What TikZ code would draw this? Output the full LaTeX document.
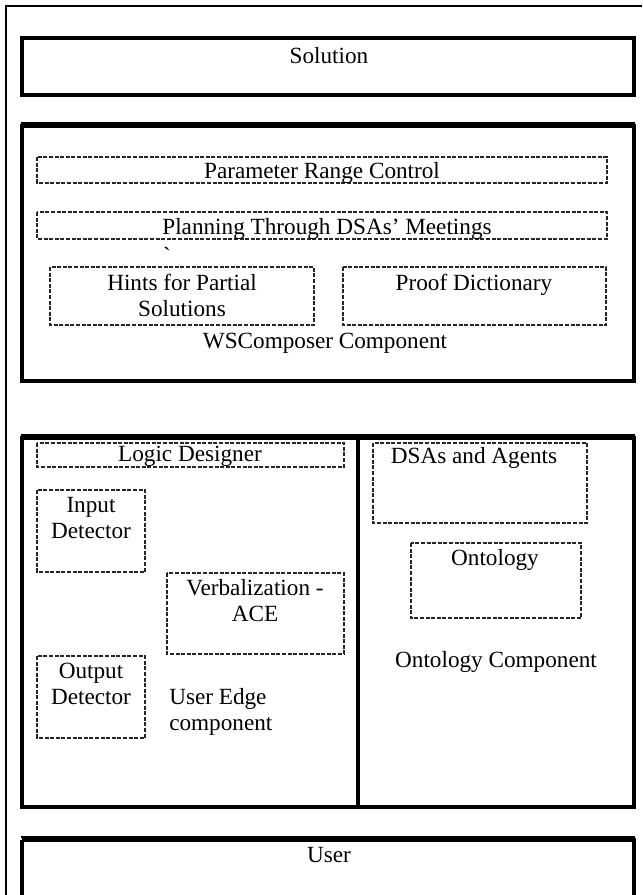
\documentclass[tikz,border=0pt]{standalone}
\usepackage{fontspec}
\setmainfont{Liberation Serif}
% same face without TeX ligature mapping, so a grave accent prints as itself
\newfontfamily\rawserif{Liberation Serif}
\begin{document}
\begin{tikzpicture}[x=0.75pt,y=-0.75pt,
  every node/.style={inner sep=0pt, font=\fontsize{17.4}{19.5}\selectfont},
  frame/.style={draw=black, line width=1.5pt},
  heavybox/.style={draw=black, line width=3pt},
  thinrule/.style={draw=black, line width=1.1pt},
  dbox/.style={draw=black!85, line width=1.1pt, dash pattern=on 3pt off 1.2pt},
  txt/.style={anchor=base}
]
\useasboundingbox (0,0) rectangle (642,895);

% page frame
\draw[frame] (642,6) -- (6,6) -- (6,895);

% Solution
\draw[heavybox] (22,38) rectangle (634,95);
\node[txt] (solution) at (329,64) {Solution};

% WSComposer component
\draw[thinrule] (21,123) -- (635,123);
\draw[heavybox] (22,126) rectangle (634,381);
\draw[dbox] (37,157) rectangle (607,183);
\node[txt] (prc) at (322,178) {Parameter Range Control};
\draw[dbox] (37,212) rectangle (607,239);
\node[txt] (plan) at (327,234) {Planning Through DSAs’ Meetings};
\node[txt] (tick) at (167,263) {\rawserif\symbol{96}};
\draw[dbox] (50,267) rectangle (314,325);
\node[txt] (hints1) at (182,290) {Hints for Partial};
\node[txt] (hints2) at (182,316) {Solutions};
\draw[dbox] (343,267) rectangle (606,325);
\node[txt] (proof) at (474,290) {Proof Dictionary};
\node[txt] (wsc) at (325,348) {WSComposer Component};

% User Edge and Ontology components
\draw[thinrule] (21,435) -- (635,435);
\draw[heavybox] (22,438) rectangle (634,807);
\draw[heavybox] (358,438) -- (358,807);

\draw[dbox] (37,443) rectangle (344,467);
\node[txt] (logic) at (190,461) {Logic Designer};
\draw[dbox] (37,490) rectangle (145,572);
\node[txt] (in1) at (91,512) {Input};
\node[txt] (in2) at (91,538) {Detector};
\draw[dbox] (167,573) rectangle (344,654);
\node[txt] (verb1) at (255,595) {Verbalization -};
\node[txt] (verb2) at (255,621) {ACE};
\draw[dbox] (37,656) rectangle (145,738);
\node[txt] (out1) at (91,678) {Output};
\node[txt] (out2) at (91,704) {Detector};
\node[anchor=base west] (ue1) at (169,704) {User Edge};
\node[anchor=base west] (ue2) at (169,730) {component};

\draw[dbox] (373,443) rectangle (587,523);
\node[txt] (dsa) at (474,463) {DSAs and Agents};
\draw[dbox] (411,543) rectangle (581,618);
\node[txt] (onto) at (495,565) {Ontology};
\node[txt] (ontoc) at (496,667) {Ontology Component};

% User
\draw[thinrule] (21,837) -- (635,837);
\draw[heavybox] (22,840) -- (22,897) (22,840) -- (634,840) -- (634,897);
\node[txt] (user) at (329,862) {User};
\end{tikzpicture}
\end{document}
